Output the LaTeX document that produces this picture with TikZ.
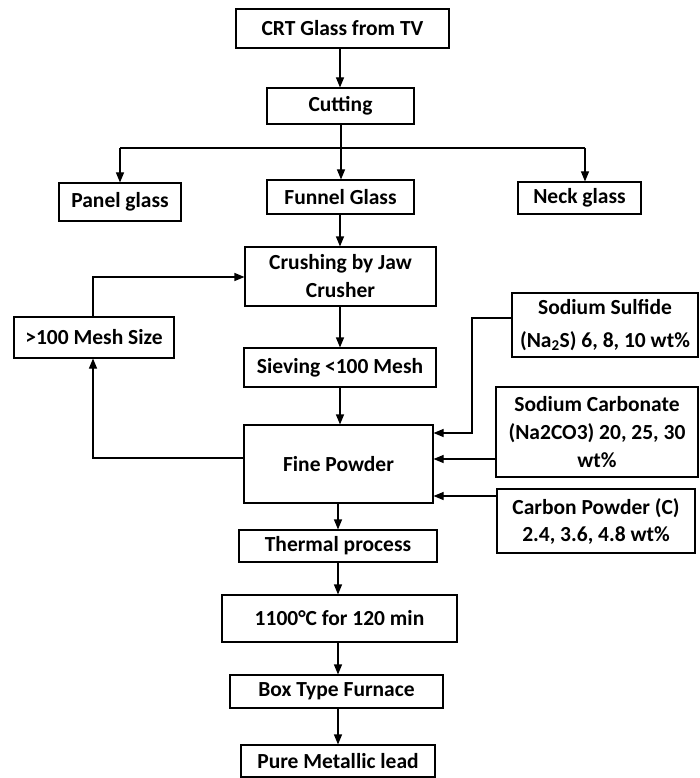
\documentclass[tikz,border=0pt]{standalone}
\usepackage{fontspec}
\setmainfont{Carlito}
\usetikzlibrary{arrows.meta}
\begin{document}
\begin{tikzpicture}[x=1pt,y=-1pt,
  box/.style={draw, line width=1.1pt, inner sep=0pt, align=center, font=\fontsize{21.5}{28}\selectfont\bfseries},
  arr/.style={-{Triangle[width=8pt,length=10pt]}, line width=1.1pt},
  ln/.style={line width=1.1pt}]
\useasboundingbox (0,0) rectangle (700,778);
\node[box, minimum width=213pt, minimum height=39pt] (crt) at (342.5,28.5) {CRT Glass from TV};
\node[box, minimum width=147pt, minimum height=36pt] (cut) at (340.5,106) {Cutting};
\node[box, minimum width=122pt, minimum height=38pt] (panel) at (120,202) {Panel glass};
\node[box, minimum width=147pt, minimum height=34pt] (funnel) at (340.5,197) {Funnel Glass};
\node[box, minimum width=123pt, minimum height=32pt] (neck) at (579.5,198) {Neck glass};
\node[box, minimum width=191pt, minimum height=59pt] (crush) at (340.5,276.5) {Crushing by Jaw\\Crusher};
\node[box, minimum width=160pt, minimum height=41pt] (mesh) at (94,337.5) {>100 Mesh Size};
\node[box, minimum width=192pt, minimum height=39pt] (sieve) at (340,367.5) {Sieving <100 Mesh};
\node[box, minimum width=189pt, minimum height=78pt] (fine) at (338.5,464) {Fine Powder};
\node[box, minimum width=186pt, minimum height=64pt, font=\fontsize{21.5}{33}\selectfont\bfseries] (sulf) at (605,325) {Sodium Sulfide\\(Na\textsubscript{2}S) 6, 8, 10 wt\%};
\node[box, minimum width=202pt, minimum height=90pt] (carb) at (597,432) {Sodium Carbonate\\(Na2CO3) 20, 25, 30\\wt\%};
\node[box, minimum width=198pt, minimum height=64pt, font=\fontsize{21.5}{27}\selectfont\bfseries] (carbon) at (596,521) {Carbon Powder (C)\\2.4, 3.6, 4.8 wt\%};
\node[box, minimum width=198pt, minimum height=32pt] (thermal) at (338,546) {Thermal process};
\node[box, minimum width=235pt, minimum height=47pt] (temp) at (339.5,618.5) {1100°C for 120 min};
\node[box, minimum width=213pt, minimum height=33pt] (furnace) at (336.5,691.5) {Box Type Furnace};
\node[box, minimum width=194pt, minimum height=32pt] (lead) at (338,761) {Pure Metallic lead};
% connectors
\coordinate (col) at (340,0);
\coordinate (col2) at (338,0);
\coordinate (split) at (341,148);
\coordinate (nk) at (585,148);
\draw[arr] (crt.south -| col) -- (cut.north -| col);
\draw[ln] (cut.south -| split) -- (split);
\draw[ln] (split -| panel) -- (nk);
\draw[arr] (split -| panel) -- (panel.north);
\draw[arr] (split) -- (funnel.north -| split);
\draw[arr] (nk) -- (neck.north -| nk);
\draw[arr] (funnel.south -| col) -- (crush.north -| col);
\draw[arr] (crush.south -| col) -- (sieve.north -| col);
\draw[arr] (sieve.south -| col) -- (fine.north -| col);
\coordinate (loopb) at (93,458);
\coordinate (loopt) at (93,277);
\draw[arr] (fine.west |- loopb) -- (loopb) -- (mesh.south -| loopb);
\draw[arr] (mesh.north -| loopt) -- (loopt) -- (loopt -| crush.west);
\coordinate (sk) at (472,318);
\coordinate (sk2) at (472,433);
\draw[arr] (sulf.west |- sk) -- (sk) -- (sk2) -- (sk2 -| fine.east);
\coordinate (ck) at (0,459);
\draw[arr] (carb.west |- ck) -- (fine.east |- ck);
\coordinate (cpk) at (0,496);
\draw[arr] (carbon.west |- cpk) -- (fine.east |- cpk);
\draw[arr] (fine.south -| col2) -- (thermal.north -| col2);
\draw[arr] (thermal.south -| col2) -- (temp.north -| col2);
\draw[arr] (temp.south -| col2) -- (furnace.north -| col2);
\draw[arr] (furnace.south -| col2) -- (lead.north -| col2);
\end{tikzpicture}
\end{document}
